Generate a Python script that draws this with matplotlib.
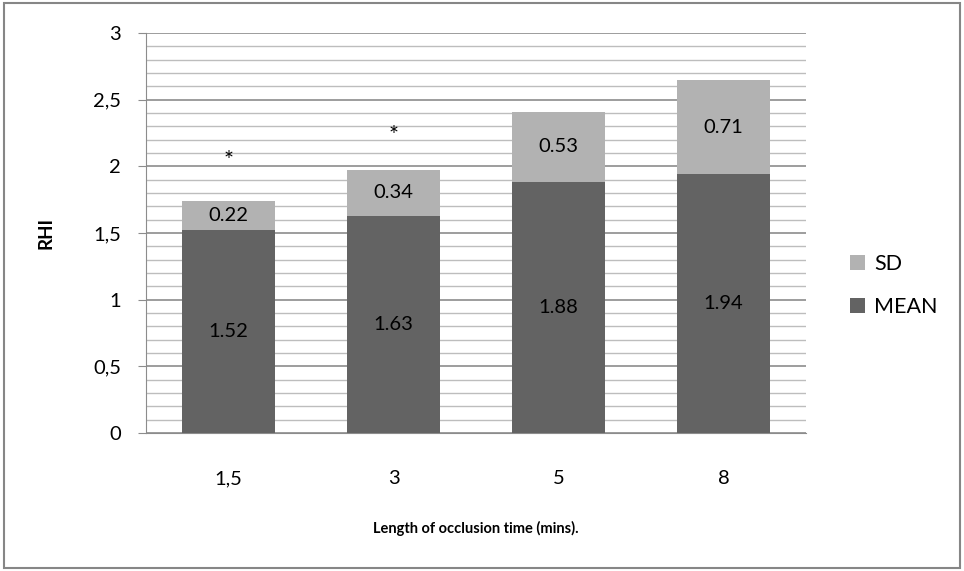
import matplotlib.pyplot as plt
import numpy as np
from matplotlib.patches import Rectangle

plt.rcParams['font.family'] = ['Lato', 'DejaVu Sans']

categories = ['1,5', '3', '5', '8']
mean_vals = [1.52, 1.63, 1.88, 1.94]
sd_vals = [0.22, 0.34, 0.53, 0.71]
star_y = [2.04, 2.23]  # significance marks above first two bars

mean_col = '#636363'
sd_col = '#b2b2b2'

fig = plt.figure(figsize=(9.64, 5.71), dpi=100)
ax = fig.add_axes([0.1515, 0.2417, 0.6847, 0.7005])

x = np.arange(len(categories))
w = 0.56
ax.bar(x, mean_vals, w, color=mean_col, label='MEAN', zorder=3)
ax.bar(x, sd_vals, w, bottom=mean_vals, color=sd_col, label='SD', zorder=3)

for i in range(len(x)):
    ax.text(x[i], mean_vals[i] / 2, f'{mean_vals[i]:.2f}', ha='center', va='center',
            fontsize=14.5, color='black', zorder=4)
    ax.text(x[i], mean_vals[i] + sd_vals[i] / 2, f'{sd_vals[i]:.2f}', ha='center', va='center',
            fontsize=14.5, color='black', zorder=4)

for i, yv in enumerate(star_y):
    ax.text(x[i], yv, '*', ha='center', va='center', fontsize=17)

ax.set_xlim(-0.5, 3.5)
ax.set_ylim(0, 3)
ax.set_yticks(np.arange(0, 3.01, 0.5))
ax.set_yticklabels(['0', '0,5', '1', '1,5', '2', '2,5', '3'])
ax.set_yticks(np.arange(0, 3.01, 0.1), minor=True)
ax.set_xticks(x)
ax.set_xticklabels(categories)

ax.grid(axis='y', which='major', color='#8c8c8c', lw=1.2, zorder=0)
ax.grid(axis='y', which='minor', color='#bdbdbd', lw=1.0, zorder=0)

for s in ['top', 'right']:
    ax.spines[s].set_visible(False)
ax.spines['left'].set_color('#8c8c8c')
ax.spines['bottom'].set_color('#8c8c8c')
ax.tick_params(axis='y', which='major', length=6, color='#8c8c8c', labelsize=14.5, pad=12)
ax.tick_params(axis='y', which='minor', length=0)
ax.tick_params(axis='x', length=0, labelsize=14.5, pad=27)

ax.set_ylabel('RHI', fontsize=13.5, fontweight='bold', labelpad=28)
ax.set_xlabel('Length of occlusion time (mins).', fontsize=10.5, fontweight='bold', labelpad=24)

handles, labels = ax.get_legend_handles_labels()
fig.legend(handles[::-1], labels[::-1], loc='center left', bbox_to_anchor=(0.862, 0.5),
           frameon=False, fontsize=15.5, handlelength=0.7, handleheight=0.7,
           labelspacing=1.1, handletextpad=0.4)

fig.patches.append(Rectangle((0.004, 0.006), 0.992, 0.988, transform=fig.transFigure,
                             fill=False, edgecolor='#868686', lw=1.5))

fig.savefig('out.png', dpi=100)
